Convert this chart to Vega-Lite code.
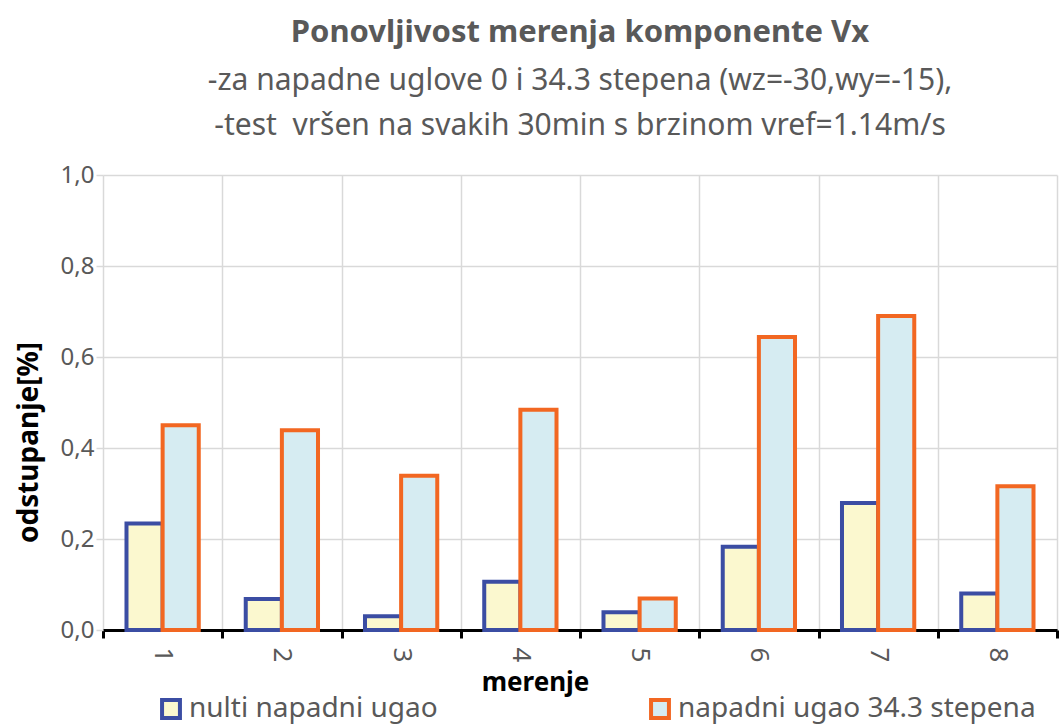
{
  "$schema": "https://vega.github.io/schema/vega-lite/v6.json",
  "width": 954,
  "height": 455,
  "autosize": {"type": "none"},
  "padding": {"left": 103, "top": 175, "right": 2, "bottom": 94},
  "background": "white",
  "config": {
    "font": "Noto Sans",
    "view": {"stroke": null}
  },
  "title": {
    "text": "Ponovljivost merenja komponente Vx",
    "subtitle": ["-za napadne uglove 0 i 34.3 stepena (wz=-30,wy=-15),", "-test \u00a0vršen na svakih 30min s brzinom vref=1.14m/s"],
    "anchor": "middle",
    "fontSize": 31,
    "fontWeight": "bold",
    "color": "#595959",
    "subtitleFontSize": 30,
    "subtitleColor": "#595959",
    "subtitleLineHeight": 45,
    "subtitlePadding": 17,
    "offset": 21
  },
  "data": {
    "values": [
      {"merenje": "1", "serija": "nulti napadni ugao", "odstupanje": 0.234},
      {"merenje": "1", "serija": "napadni ugao 34.3 stepena", "odstupanje": 0.45},
      {"merenje": "2", "serija": "nulti napadni ugao", "odstupanje": 0.068},
      {"merenje": "2", "serija": "napadni ugao 34.3 stepena", "odstupanje": 0.439},
      {"merenje": "3", "serija": "nulti napadni ugao", "odstupanje": 0.03},
      {"merenje": "3", "serija": "napadni ugao 34.3 stepena", "odstupanje": 0.339},
      {"merenje": "4", "serija": "nulti napadni ugao", "odstupanje": 0.106},
      {"merenje": "4", "serija": "napadni ugao 34.3 stepena", "odstupanje": 0.484},
      {"merenje": "5", "serija": "nulti napadni ugao", "odstupanje": 0.039},
      {"merenje": "5", "serija": "napadni ugao 34.3 stepena", "odstupanje": 0.069},
      {"merenje": "6", "serija": "nulti napadni ugao", "odstupanje": 0.183},
      {"merenje": "6", "serija": "napadni ugao 34.3 stepena", "odstupanje": 0.644},
      {"merenje": "7", "serija": "nulti napadni ugao", "odstupanje": 0.279},
      {"merenje": "7", "serija": "napadni ugao 34.3 stepena", "odstupanje": 0.69},
      {"merenje": "8", "serija": "nulti napadni ugao", "odstupanje": 0.08},
      {"merenje": "8", "serija": "napadni ugao 34.3 stepena", "odstupanje": 0.316}
    ]
  },
  "mark": {"type": "bar", "strokeWidth": 4},
  "encoding": {
    "x": {
      "field": "merenje",
      "type": "nominal",
      "scale": {"paddingInner": 0, "paddingOuter": 0},
      "axis": {
        "title": "merenje",
        "titleFontSize": 26,
        "titleFontWeight": "bold",
        "titleColor": "#000000",
        "titleX": 432,
        "titleY": 39,
        "labelAngle": 90,
        "labelAlign": "left",
        "labelBaseline": "middle",
        "labelFontSize": 26,
        "labelColor": "#595959",
        "labelPadding": 9,
        "tickBand": "extent",
        "tickColor": "#000000",
        "tickWidth": 3,
        "tickSize": 8,
        "domainColor": "#000000",
        "domainWidth": 3,
        "grid": true,
        "gridColor": "#d9d9d9",
        "gridWidth": 1.5
      }
    },
    "xOffset": {
      "field": "serija",
      "type": "nominal",
      "sort": ["nulti napadni ugao", "napadni ugao 34.3 stepena"],
      "scale": {"paddingInner": 0, "paddingOuter": 0.65}
    },
    "y": {
      "field": "odstupanje",
      "type": "quantitative",
      "scale": {"domain": [0, 1], "nice": false},
      "axis": {
        "title": "odstupanje[%]",
        "titleFontSize": 28,
        "titleFontWeight": "bold",
        "titleColor": "#000000",
        "titleX": -74,
        "titleY": 267,
        "titleAlign": "center",
        "titleBaseline": "middle",
        "titleAngle": 270,
        "values": [0, 0.2, 0.4, 0.6, 0.8, 1.0],
        "labelExpr": "replace(format(datum.value, '.1f'), '.', ',')",
        "labelFontSize": 24,
        "labelColor": "#595959",
        "labelPadding": 2,
        "domain": false,
        "tickColor": "#d9d9d9",
        "tickSize": 7,
        "tickWidth": 1.5,
        "grid": true,
        "gridColor": "#d9d9d9",
        "gridWidth": 1.5
      }
    },
    "fill": {
      "field": "serija",
      "type": "nominal",
      "sort": ["nulti napadni ugao", "napadni ugao 34.3 stepena"],
      "scale": {"domain": ["nulti napadni ugao", "napadni ugao 34.3 stepena"], "range": ["#FBF8CF", "#D6ECF2"]},
      "legend": {
        "title": null,
        "orient": "none",
        "direction": "horizontal",
        "legendX": 54,
        "legendY": 520,
        "symbolType": "square",
        "symbolSize": 320,
        "symbolStrokeWidth": 4,
        "symbolOpacity": 1,
        "labelFontSize": 28,
        "labelColor": "#595959",
        "labelLimit": 600,
        "columnPadding": 205
      }
    },
    "stroke": {
      "field": "serija",
      "type": "nominal",
      "sort": ["nulti napadni ugao", "napadni ugao 34.3 stepena"],
      "scale": {"domain": ["nulti napadni ugao", "napadni ugao 34.3 stepena"], "range": ["#3B4DA3", "#F26722"]},
      "legend": {
        "title": null,
        "orient": "none",
        "direction": "horizontal",
        "legendX": 54,
        "legendY": 520,
        "symbolType": "square",
        "symbolSize": 320,
        "symbolStrokeWidth": 4,
        "symbolOpacity": 1,
        "labelFontSize": 28,
        "labelColor": "#595959",
        "labelLimit": 600,
        "columnPadding": 205
      }
    }
  }
}
